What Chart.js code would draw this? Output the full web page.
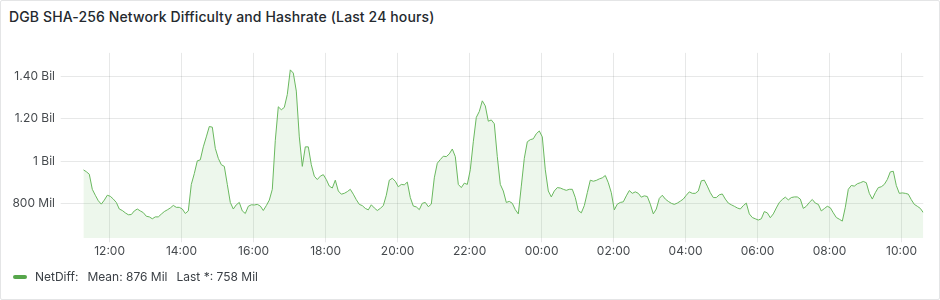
<!DOCTYPE html>
<html>
<head>
<meta charset="utf-8">
<title>DGB SHA-256 Network Difficulty</title>
<script src="https://cdn.jsdelivr.net/npm/chart.js@4.4.1/dist/chart.umd.min.js"></script>
<style>
    html, body { margin: 0; padding: 0; background: #fff; }
    body { width: 940px; height: 300px; position: relative; overflow: hidden; font-family: Inter, "Noto Sans", sans-serif; }
    .panel { position: absolute; left: 0; top: 0; width: 940px; height: 300px; box-sizing: border-box; border: 1px solid rgba(36, 41, 46, 0.12); border-radius: 2px; }
    .title { position: absolute; left: 9px; top: 7px; font-size: 14px; letter-spacing: 0.12px; font-weight: 500; line-height: 20px; color: #24292e; white-space: nowrap; }
    .chart-box { position: absolute; left: 0; top: 40px; width: 940px; height: 230px; }
    .legend { position: absolute; left: 13px; top: 269px; font-size: 12px; line-height: 16px; color: #3b4046; white-space: nowrap; display: flex; align-items: center; }
    .legend .swatch { width: 14px; height: 4px; border-radius: 2px; background: #56a64b; margin-right: 8px; }
    .legend .stat { margin-left: 9px; }
</style>
</head>
<body>
<div class="panel"></div>
<div class="title">DGB SHA-256 Network Difficulty and Hashrate (Last 24 hours)</div>
<div class="chart-box"><canvas id="diffChart"></canvas></div>
<div class="legend">
    <span class="swatch"></span><span id="seriesName"></span><span class="stat" id="statMean"></span><span class="stat" id="statLast"></span>
</div>
<script>
// Data jaringan: satu titik tiap 5 menit, mulai sekitar 11:16
const seriesName = 'NetDiff';
const startHour = 11.27;
const stepMinutes = 5;

// Nilai difficulty dalam juta (Mil)
const netDiff = [
    960, 951, 939, 868, 840, 814, 798, 817, 840, 835,
    822, 806, 775, 768, 757, 748, 749, 766, 775, 766,
    758, 741, 738, 729, 738, 738, 751, 763, 771, 780,
    792, 783, 783, 775, 754, 766, 891, 942, 1002, 1007,
    1068, 1115, 1164, 1161, 1061, 1014, 984, 976, 891, 806,
    775, 795, 806, 766, 754, 788, 795, 794, 797, 789,
    768, 791, 817, 868, 1099, 1257, 1243, 1254, 1315, 1431,
    1416, 1331, 1115, 976, 1068, 1068, 984, 930, 914, 930,
    937, 914, 883, 874, 911, 860, 845, 849, 857, 868,
    845, 819, 797, 791, 778, 771, 795, 780, 768, 778,
    791, 840, 911, 920, 906, 880, 891, 889, 902, 829,
    789, 785, 772, 802, 806, 786, 798, 922, 991, 1008,
    1024, 1022, 1035, 1058, 1022, 891, 876, 897, 891, 960,
    1092, 1207, 1235, 1285, 1261, 1189, 1195, 1177, 1022, 891,
    860, 806, 811, 802, 772, 752, 883, 1014, 1092, 1102,
    1106, 1130, 1143, 1115, 960, 860, 832, 860, 876, 874,
    868, 863, 868, 868, 829, 768, 757, 791, 852, 911,
    906, 910, 917, 922, 933, 899, 852, 771, 798, 806,
    809, 837, 862, 849, 856, 849, 831, 837, 834, 798,
    752, 775, 825, 840, 822, 811, 802, 797, 803, 812,
    822, 840, 856, 849, 849, 860, 908, 911, 883, 852,
    829, 829, 842, 846, 822, 803, 795, 788, 780, 775,
    791, 803, 752, 735, 729, 723, 729, 763, 757, 734,
    752, 780, 806, 820, 831, 818, 829, 832, 832, 822,
    778, 788, 806, 820, 803, 797, 766, 777, 788, 781,
    757, 735, 727, 718, 783, 868, 886, 883, 894, 899,
    905, 899, 849, 822, 852, 876, 880, 891, 914, 950,
    953, 886, 849, 851, 849, 845, 819, 797, 788, 778,
    758
];

// Label sumbu
const xTickValues = [12, 14, 16, 18, 20, 22, 24, 26, 28, 30, 32, 34];
const xTickLabels = ['12:00', '14:00', '16:00', '18:00', '20:00', '22:00', '00:00', '02:00', '04:00', '06:00', '08:00', '10:00'];
const yTickValues = [800, 1000, 1200, 1400];
const yTickLabels = ['800 Mil', '1 Bil', '1.20 Bil', '1.40 Bil'];
const yMin = 637;
const yMax = 1511;

// Statistik legenda
const legendStats = ['Mean: 876 Mil', 'Last *: 758 Mil'];

const points = netDiff.map((v, i) => ({ x: startHour + i * stepMinutes / 60, y: v }));

const tickFont = { family: 'Inter', size: 12 };
const tickColor = 'rgba(36, 41, 46, 0.85)';
const gridColor = 'rgba(36, 41, 46, 0.11)';

const config = {
    type: 'line',
    data: {
        datasets: [{
            label: seriesName,
            data: points,
            borderColor: '#6ab85f',
            backgroundColor: 'rgba(115, 191, 105, 0.13)',
            borderWidth: 1,
            pointRadius: 0,
            tension: 0,
            fill: 'start'
        }]
    },
    options: {
        responsive: true,
        maintainAspectRatio: false,
        animation: false,
        layout: { padding: { top: 9.3, right: 16.7, left: 0, bottom: 0 } },
        plugins: {
            legend: { display: false },
            tooltip: { enabled: false }
        },
        scales: {
            x: {
                type: 'linear',
                min: points[0].x,
                max: points[points.length - 1].x,
                afterBuildTicks: (scale) => {
                    scale.ticks = xTickValues.map(v => ({ value: v }));
                },
                afterFit: (scale) => { scale.height = 31.7; },
                ticks: {
                    autoSkip: false,
                    maxRotation: 0,
                    padding: 2,
                    font: tickFont,
                    color: tickColor,
                    callback: (value, index) => xTickLabels[index]
                },
                grid: { color: gridColor, tickLength: 4 },
                border: { display: false }
            },
            y: {
                min: yMin,
                max: yMax,
                afterBuildTicks: (scale) => {
                    scale.ticks = yTickValues.map(v => ({ value: v }));
                },
                afterFit: (scale) => { scale.width = 83.3; },
                ticks: {
                    padding: 5.7,
                    font: tickFont,
                    color: tickColor,
                    callback: (value, index) => yTickLabels[index]
                },
                grid: { color: gridColor, tickLength: 22.6 },
                border: { display: false }
            }
        }
    }
};

window.onload = () => {
    document.getElementById('seriesName').textContent = seriesName + ':';
    document.getElementById('statMean').textContent = legendStats[0];
    document.getElementById('statLast').textContent = legendStats[1];
    const ctx = document.getElementById('diffChart').getContext('2d');
    new Chart(ctx, config);
};
</script>
</body>
</html>
